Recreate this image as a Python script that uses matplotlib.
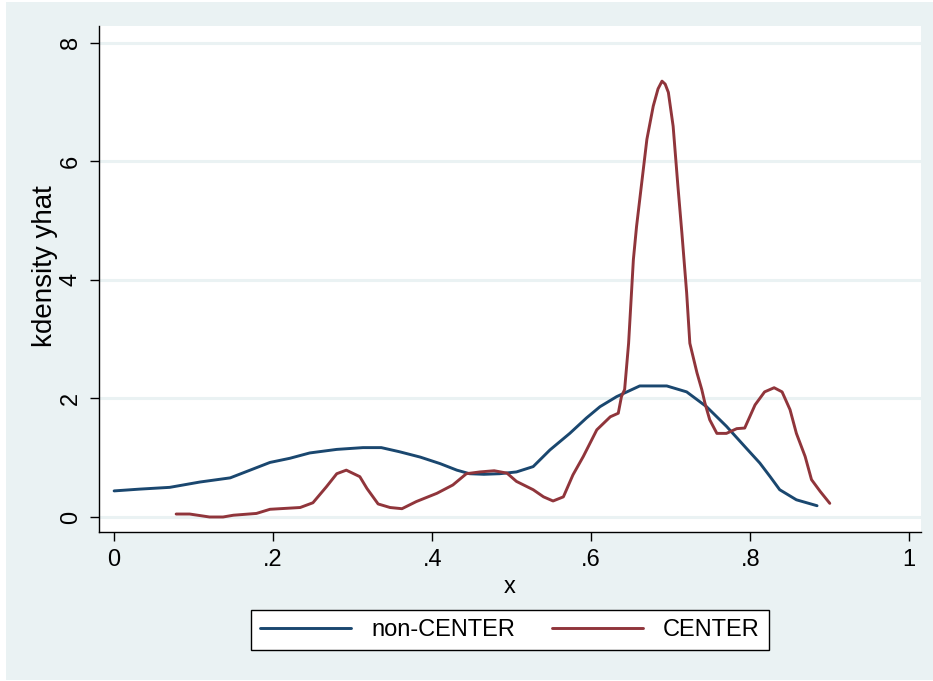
import matplotlib
matplotlib.use('Agg')
import matplotlib.pyplot as plt
from matplotlib.patches import Rectangle

plt.rcParams['font.family'] = ['Liberation Sans', 'DejaVu Sans']

# kdensity of yhat, non-CENTER group
x_non = [0.0, 0.032, 0.07, 0.108, 0.146, 0.171, 0.196, 0.221, 0.246, 0.28, 0.313,
         0.336, 0.359, 0.385, 0.41, 0.431, 0.447, 0.465, 0.485, 0.506, 0.527, 0.548,
         0.573, 0.594, 0.611, 0.632, 0.661, 0.695, 0.72, 0.745, 0.77, 0.795, 0.812,
         0.825, 0.837, 0.858, 0.884]
y_non = [0.44, 0.47, 0.50, 0.59, 0.66, 0.79, 0.92, 0.99, 1.08, 1.14, 1.17,
         1.17, 1.10, 1.01, 0.90, 0.79, 0.73, 0.72, 0.73, 0.76, 0.85, 1.13,
         1.41, 1.67, 1.86, 2.03, 2.21, 2.21, 2.11, 1.86, 1.53, 1.16, 0.91,
         0.68, 0.46, 0.29, 0.19]

# kdensity of yhat, CENTER group
x_cen = [0.078, 0.095, 0.12, 0.137, 0.15, 0.179, 0.196, 0.234, 0.25, 0.267, 0.28,
         0.292, 0.309, 0.318, 0.332, 0.347, 0.362, 0.38, 0.406, 0.426, 0.443, 0.46,
         0.478, 0.494, 0.506, 0.527, 0.54, 0.552, 0.565, 0.577, 0.59, 0.607, 0.624,
         0.634, 0.638, 0.642, 0.647, 0.653, 0.657, 0.663, 0.67, 0.678, 0.684, 0.689,
         0.693, 0.697, 0.703, 0.709, 0.714, 0.72, 0.724, 0.733, 0.739, 0.743, 0.749,
         0.758, 0.77, 0.783, 0.793, 0.806, 0.818, 0.83, 0.84, 0.85, 0.858, 0.869,
         0.877, 0.888, 0.90]
y_cen = [0.05, 0.05, 0.0, 0.0, 0.03, 0.06, 0.13, 0.16, 0.24, 0.51, 0.73,
         0.79, 0.68, 0.48, 0.22, 0.16, 0.14, 0.26, 0.40, 0.54, 0.73, 0.76,
         0.78, 0.74, 0.60, 0.46, 0.34, 0.27, 0.34, 0.71, 1.02, 1.47, 1.69,
         1.75, 2.03, 2.15, 2.93, 4.34, 4.90, 5.58, 6.37, 6.93, 7.22, 7.35,
         7.30, 7.16, 6.59, 5.58, 4.79, 3.78, 2.93, 2.43, 2.15, 1.92, 1.64,
         1.41, 1.41, 1.49, 1.50, 1.89, 2.11, 2.18, 2.11, 1.81, 1.41, 1.02,
         0.63, 0.43, 0.23]

x_ticks = [0, 0.2, 0.4, 0.6, 0.8, 1]
x_ticklabels = ['0', '.2', '.4', '.6', '.8', '1']
y_ticks = [0, 2, 4, 6, 8]

navy = '#1a476f'
maroon = '#90353b'
bg = '#eaf2f3'

fig = plt.figure(figsize=(9.33, 6.81), dpi=100)
fig.patch.set_facecolor('white')
fig.patches.append(Rectangle((6 / 933, 0.0015), 1 - 6 / 933, 1 - 3 / 681,
                             transform=fig.transFigure, facecolor=bg,
                             edgecolor='none', zorder=-10))

ax = fig.add_axes([99 / 933, 1 - 532 / 681, 822 / 933, 506 / 681])
ax.set_facecolor('white')

ax.plot(x_non, y_non, color=navy, lw=2.1, label='non-CENTER', solid_capstyle='round')
ax.plot(x_cen, y_cen, color=maroon, lw=2.1, label='CENTER', solid_capstyle='round')

ax.set_xlim(-0.019, 1.0147)
ax.set_ylim(-0.253, 8.28)
ax.set_xticks(x_ticks)
ax.set_xticklabels(x_ticklabels)
ax.set_yticks(y_ticks)
ax.set_yticklabels([str(v) for v in y_ticks], rotation=90, va='center')

ax.grid(axis='y', color=bg, lw=2.2)
ax.set_axisbelow(True)
for s in ['top', 'right']:
    ax.spines[s].set_visible(False)
for s in ['left', 'bottom']:
    ax.spines[s].set_linewidth(1.0)
    ax.spines[s].set_color('black')

ax.tick_params(axis='both', direction='out', length=6.5, width=1.0,
               labelsize=17, pad=6)
ax.set_xlabel('x', fontsize=17, labelpad=3)
ax.set_ylabel('kdensity yhat', fontsize=20, labelpad=1)
ax.yaxis.label.set_y(0.526)

fig.legend(loc='center', bbox_to_anchor=(510 / 933, 1 - 630 / 681), ncol=2,
           fontsize=17, frameon=True, fancybox=False, edgecolor='black',
           framealpha=1, handlelength=3.85, handletextpad=0.85,
           columnspacing=1.55, borderpad=0.4)
leg = fig.legends[0]
leg.get_frame().set_linewidth(1.0)
for line in leg.get_lines():
    line.set_linewidth(2.1)

fig.savefig('out.png', dpi=100)
